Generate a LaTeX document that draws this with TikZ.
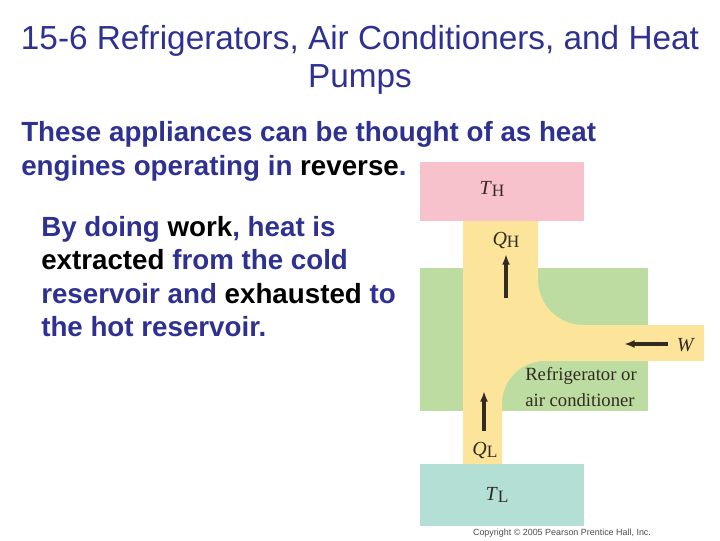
\documentclass[tikz,border=0pt]{standalone}
\usepackage{fontspec}
\usetikzlibrary{arrows.meta}
\setmainfont{Liberation Sans}
\newfontfamily\serf{Liberation Serif}
\definecolor{navy}{HTML}{2E3192}
\definecolor{hot}{HTML}{F7C2CB}
\definecolor{cold}{HTML}{B3DFD4}
\definecolor{grn}{HTML}{BCDCA2}
\definecolor{yel}{HTML}{FCE49A}
\definecolor{arr}{HTML}{332B22}
\begin{document}
\begin{tikzpicture}[x=0.75pt,y=-0.75pt,
  lab/.style={font=\serf\fontsize{15}{15}\selectfont,text=arr,inner sep=0pt},
  flow/.style={-{Latex[length=8pt,width=6pt]},line width=2.6pt,draw=arr}]
\useasboundingbox (0,0) rectangle (720,540);
\node[text=navy,align=center,font=\fontsize{25}{28.5}\selectfont] (title) at (360,60) {15-6 Refrigerators, Air Conditioners, and Heat\\Pumps};
\node[text=navy,align=left,anchor=north west,font=\bfseries\fontsize{20.8}{25.3}\selectfont,inner sep=0pt] (t1) at (21,121) {These appliances can be thought of as heat\\engines operating in \textcolor{black}{reverse}.};
\node[text=navy,align=left,anchor=north west,font=\bfseries\fontsize{20.8}{25}\selectfont,inner sep=0pt] (t2) at (41,216) {By doing \textcolor{black}{work}, heat is\\\textcolor{black}{extracted} from the cold\\reservoir and \textcolor{black}{exhausted} to\\the hot reservoir.};
\fill[grn] (420,268) rectangle (648,411);
\fill[hot] (420,162) rectangle (584,221);
\fill[cold] (420,464) rectangle (584,526);
\fill[yel] (463,221) -- (538,221) [rounded corners=34] -- (538,325) [sharp corners] -- (704,325) -- (704,361) [rounded corners=32] -- (502,361) [sharp corners] -- (502,464) -- (463,464) -- cycle;
\node[lab] (TH) at (492,189) {\textit{T}{\fontsize{13}{13}\selectfont\raisebox{-1.5pt}{H}}};
\node[lab] (QH) at (506,240) {\textit{Q}{\fontsize{13}{13}\selectfont\raisebox{-1.5pt}{H}}};
\node[lab] (QL) at (485,450) {\textit{Q}{\fontsize{13}{13}\selectfont\raisebox{-1.5pt}{L}}};
\node[lab] (TL) at (497,495) {\textit{T}{\fontsize{13}{13}\selectfont\raisebox{-1.5pt}{L}}};
\node[lab] (W) at (686,345) {\textit{W}};
\node[lab,align=left,anchor=west,font=\serf\fontsize{14}{19}\selectfont] (ref) at (525,387) {Refrigerator or\\air conditioner};
\coordinate (a1) at (506,298); \coordinate (a2) at (506,254);
\coordinate (b1) at (484,431); \coordinate (b2) at (484,391);
\coordinate (c1) at (668,344); \coordinate (c2) at (624,344);
\draw[flow] (a1) -- (a2);
\draw[flow] (b1) -- (b2);
\draw[flow] (c1) -- (c2);
\node[font=\fontsize{6.7}{7}\selectfont,text=black!70] (copy) at (562,533) {Copyright © 2005 Pearson Prentice Hall, Inc.};
\end{tikzpicture}
\end{document}
